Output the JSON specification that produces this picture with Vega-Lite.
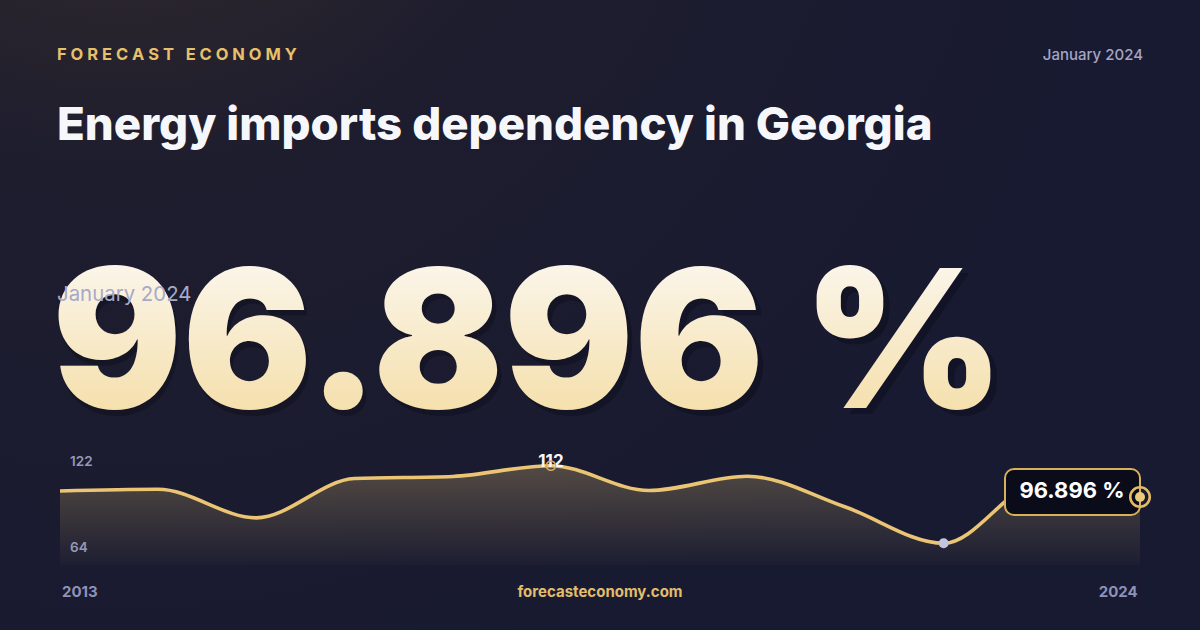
{
  "$schema": "https://vega.github.io/schema/vega-lite/v6.json",
  "width": 1200,
  "height": 630,
  "padding": 0,
  "autosize": {"type": "none"},
  "background": "#181a2f",
  "view": {
    "stroke": null,
    "fill": {
      "gradient": "radial",
      "x1": 0.1, "y1": 0, "r1": 0,
      "x2": 0.1, "y2": 0, "r2": 0.85,
      "stops": [
        {"offset": 0, "color": "#3b312c"},
        {"offset": 0.45, "color": "#1e1d2e"},
        {"offset": 1, "color": "#181a31"}
      ]
    }
  },
  "config": {"font": "Inter"},
  "datasets": {
    "series": [
      {"year": 2013, "value": 99.8},
      {"year": 2014, "value": 100.6},
      {"year": 2015, "value": 86.8},
      {"year": 2016, "value": 105.8},
      {"year": 2017, "value": 106.8},
      {"year": 2018, "value": 112.0},
      {"year": 2019, "value": 100.0},
      {"year": 2020, "value": 106.9},
      {"year": 2021, "value": 92.0},
      {"year": 2022, "value": 74.5},
      {"year": 2023, "value": 104.0},
      {"year": 2024, "value": 96.896}
    ]
  },
  "layer": [
    {
      "data": {"name": "series"},
      "mark": {
        "type": "area",
        "interpolate": "monotone",
        "fill": {
          "gradient": "linear", "x1": 0, "y1": 0, "x2": 0, "y2": 1,
          "stops": [
            {"offset": 0, "color": "rgba(232,196,116,0.28)"},
            {"offset": 1, "color": "rgba(232,196,116,0.02)"}
          ]
        }
      },
      "encoding": {
        "x": {"field": "year", "type": "quantitative", "scale": {"domain": [2012.3889, 2024.6111], "nice": false, "zero": false}, "axis": null},
        "y": {"field": "value", "type": "quantitative", "scale": {"domain": [32.583, 337.083], "nice": false, "zero": false}, "axis": null},
        "y2": {"datum": 64}
      }
    },
    {
      "data": {"name": "series"},
      "mark": {"type": "line", "interpolate": "monotone", "color": "#ebc574", "strokeWidth": 3.6},
      "encoding": {
        "x": {"field": "year", "type": "quantitative"},
        "y": {"field": "value", "type": "quantitative"}
      }
    },
    {
      "data": {"name": "series"},
      "transform": [
        {"joinaggregate": [{"op": "max", "field": "value", "as": "vmax"}]},
        {"filter": "datum.value == datum.vmax"}
      ],
      "encoding": {
        "x": {"field": "year", "type": "quantitative"},
        "y": {"field": "value", "type": "quantitative"}
      },
      "layer": [
        {
          "mark": {"type": "text", "color": "#f7f7fb", "fontSize": 17, "fontWeight": 700, "baseline": "alphabetic", "align": "center", "dy": 1},
          "encoding": {"text": {"field": "value", "type": "quantitative", "format": ".0f"}}
        },
        {
          "mark": {"type": "point", "filled": false, "stroke": "#d9ae55", "strokeWidth": 1.6, "size": 85, "opacity": 1}
        }
      ]
    },
    {
      "data": {"name": "series"},
      "transform": [
        {"joinaggregate": [{"op": "min", "field": "value", "as": "vmin"}]},
        {"filter": "datum.value == datum.vmin"}
      ],
      "mark": {"type": "circle", "color": "#c2c5de", "size": 100, "opacity": 1},
      "encoding": {
        "x": {"field": "year", "type": "quantitative"},
        "y": {"field": "value", "type": "quantitative"}
      }
    },
    {
      "data": {"values": [{"label": "96.896 %"}]},
      "mark": {"type": "rect", "fill": "#0b0c19", "stroke": "#d8b05a", "strokeWidth": 2, "cornerRadius": 9},
      "encoding": {
        "x": {"datum": 2022.625},
        "x2": {"datum": 2024.0},
        "y": {"datum": 110.4},
        "y2": {"datum": 88.17}
      }
    },
    {
      "data": {"values": [{"label": "96.896 %"}]},
      "mark": {"type": "text", "color": "#ffffff", "fontSize": 22, "fontWeight": 700, "align": "center", "baseline": "alphabetic"},
      "encoding": {
        "x": {"datum": 2023.307},
        "y": {"datum": 96.38},
        "text": {"field": "label"}
      }
    },
    {
      "data": {"name": "series"},
      "transform": [{"filter": "datum.year == 2024"}],
      "encoding": {
        "x": {"field": "year", "type": "quantitative"},
        "y": {"field": "value", "type": "quantitative"}
      },
      "layer": [
        {"mark": {"type": "point", "filled": false, "stroke": "#e2bb62", "strokeWidth": 2.6, "size": 380, "opacity": 1}},
        {"mark": {"type": "circle", "color": "#ecca7c", "size": 100, "opacity": 1}}
      ]
    },
    {
      "data": {"values": [{"label": "F O R E C A S T \u00a0 E C O N O M Y"}]},
      "mark": {"type": "text", "color": "#e6c06a", "fontSize": 16.5, "fontWeight": 700, "align": "left", "baseline": "alphabetic"},
      "encoding": {"x": {"datum": 2012.9694}, "y": {"datum": 308.32}, "text": {"field": "label"}}
    },
    {
      "data": {"values": [{"label": "January 2024"}]},
      "mark": {"type": "text", "color": "#a4a6c4", "fontSize": 15, "fontWeight": 500, "align": "right", "baseline": "alphabetic"},
      "encoding": {"x": {"datum": 2024.0306}, "y": {"datum": 308.08}, "text": {"field": "label"}}
    },
    {
      "data": {"values": [{"label": "Energy imports dependency in Georgia"}]},
      "mark": {"type": "text", "color": "#f6f7fb", "fontSize": 45.6, "fontWeight": 800, "align": "left", "baseline": "alphabetic"},
      "encoding": {"x": {"datum": 2012.9694}, "y": {"datum": 269.42}, "text": {"field": "label"}}
    },
    {
      "data": {"values": [{"label": "96.896 %"}]},
      "mark": {"type": "text", "color": "#05060f", "opacity": 0.3, "fontSize": 194, "fontWeight": 900, "align": "left", "baseline": "alphabetic", "dy": 6, "dx": 2},
      "encoding": {"x": {"datum": 2012.9185}, "y": {"datum": 139.88}, "text": {"field": "label"}}
    },
    {
      "data": {"values": [{"label": "96.896 %"}]},
      "mark": {
        "type": "text", "fontSize": 193, "fontWeight": 900, "align": "left", "baseline": "alphabetic",
        "fill": {
          "gradient": "linear", "x1": 0, "y1": 0, "x2": 0, "y2": 1,
          "stops": [
            {"offset": 0, "color": "#fdfcfc"},
            {"offset": 1, "color": "#f3d99a"}
          ]
        }
      },
      "encoding": {"x": {"datum": 2012.9185}, "y": {"datum": 139.88}, "text": {"field": "label"}}
    },
    {
      "data": {"values": [{"label": "January 2024"}]},
      "mark": {"type": "text", "color": "#a7a9c9", "fontSize": 20.4, "fontWeight": 400, "align": "left", "baseline": "alphabetic"},
      "encoding": {"x": {"datum": 2012.9694}, "y": {"datum": 191.6}, "text": {"field": "label"}}
    },
    {
      "data": {"values": [{"label": "122", "v": 111.85}, {"label": "64", "v": 70.28}]},
      "mark": {"type": "text", "color": "#9598b9", "fontSize": 13.5, "fontWeight": 600, "align": "left", "baseline": "alphabetic"},
      "encoding": {"x": {"datum": 2013.102}, "y": {"field": "v", "type": "quantitative"}, "text": {"field": "label"}}
    },
    {
      "data": {"values": [{"label": "2013"}]},
      "mark": {"type": "text", "color": "#8f92b5", "fontSize": 15, "fontWeight": 700, "align": "left", "baseline": "alphabetic"},
      "encoding": {"x": {"datum": 2013.0204}, "y": {"datum": 48.53}, "text": {"field": "label"}}
    },
    {
      "data": {"values": [{"label": "2024"}]},
      "mark": {"type": "text", "color": "#8f92b5", "fontSize": 15, "fontWeight": 700, "align": "right", "baseline": "alphabetic"},
      "encoding": {"x": {"datum": 2023.9766}, "y": {"datum": 48.53}, "text": {"field": "label"}}
    },
    {
      "data": {"values": [{"label": "forecasteconomy.com"}]},
      "mark": {"type": "text", "color": "#e2bd6c", "fontSize": 15, "fontWeight": 700, "align": "center", "baseline": "alphabetic"},
      "encoding": {"x": {"datum": 2018.5}, "y": {"datum": 48.53}, "text": {"field": "label"}}
    }
  ]
}
